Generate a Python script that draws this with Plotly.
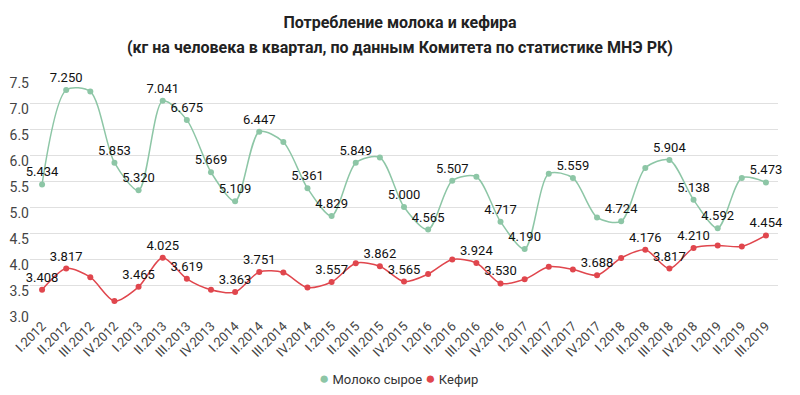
import plotly.graph_objects as go

categories = ["I.2012", "II.2012", "III.2012", "IV.2012",
              "I.2013", "II.2013", "III.2013", "IV.2013",
              "I.2014", "II.2014", "III.2014", "IV.2014",
              "I.2015", "II.2015", "III.2015", "IV.2015",
              "I.2016", "II.2016", "III.2016", "IV.2016",
              "I.2017", "II.2017", "III.2017", "IV.2017",
              "I.2018", "II.2018", "III.2018", "IV.2018",
              "I.2019", "II.2019", "III.2019"]

milk = [5.434, 7.250, 7.22, 5.853,
        5.320, 7.041, 6.675, 5.669,
        5.109, 6.447, 6.25, 5.361,
        4.829, 5.849, 5.95, 5.000,
        4.565, 5.507, 5.58, 4.717,
        4.190, 5.64, 5.559, 4.80,
        4.724, 5.75, 5.904, 5.138,
        4.592, 5.56, 5.473]

kefir = [3.408, 3.817, 3.65, 3.19,
         3.465, 4.025, 3.619, 3.41,
         3.363, 3.751, 3.74, 3.45,
         3.557, 3.92, 3.862, 3.565,
         3.71, 3.99, 3.924, 3.530,
         3.61, 3.85, 3.80, 3.688,
         4.02, 4.176, 3.817, 4.210,
         4.26, 4.24, 4.454]

# which points carry a visible value label in the reference
milk_labeled = [1, 1, 0, 1, 1, 1, 1, 1, 1, 1, 0, 1, 1, 1, 0, 1,
                1, 1, 0, 1, 1, 0, 1, 0, 1, 0, 1, 1, 1, 0, 1]
kefir_labeled = [1, 1, 0, 0, 1, 1, 1, 0, 1, 1, 0, 0, 1, 0, 1, 1,
                 0, 0, 1, 1, 0, 0, 0, 1, 0, 1, 1, 1, 0, 0, 1]

milk_name = "Молоко сырое"
kefir_name = "Кефир"
title_line1 = "Потребление молока и кефира"
title_line2 = "(кг на человека в квартал, по данным Комитета по статистике МНЭ РК)"
y_ticks = [3.0, 3.5, 4.0, 4.5, 5.0, 5.5, 6.0, 6.5, 7.0, 7.5]

green = "#8dc6a6"
red = "#e0464d"
font_family = "Roboto, 'Noto Sans', sans-serif"

W, H = 800, 395
L, R, T, B = 30, 22, 77, 84
plot_w = W - L - R
plot_h = H - T - B

milk_text = [f"{v:.3f}" if s else "" for v, s in zip(milk, milk_labeled)]
kefir_text = [f"{v:.3f}" if s else "" for v, s in zip(kefir, kefir_labeled)]

fig = go.Figure()
fig.add_trace(go.Scatter(
    x=categories, y=milk, mode="lines+markers+text", name=milk_name,
    line=dict(color=green, width=1.5, shape="spline", smoothing=0.8),
    marker=dict(color=green, size=6),
    text=milk_text, textposition="top center",
    textfont=dict(size=13, color="#111", family=font_family),
    cliponaxis=False))
fig.add_trace(go.Scatter(
    x=categories, y=kefir, mode="lines+markers+text", name=kefir_name,
    line=dict(color=red, width=1.5, shape="spline", smoothing=0.8),
    marker=dict(color=red, size=6),
    text=kefir_text, textposition="top center",
    textfont=dict(size=13, color="#111", family=font_family),
    cliponaxis=False))

legend_html = (f"<span style='color:{green}; font-size:17px'>●</span> {milk_name} "
               f"<span style='color:{red}; font-size:17px'>●</span> {kefir_name}")

fig.update_layout(
    width=W, height=H,
    paper_bgcolor="white", plot_bgcolor="white",
    margin=dict(l=L, r=R, t=T, b=B, autoexpand=False),
    font=dict(family=font_family, color="#333"),
    title=dict(text=f"<b>{title_line1}</b>", xref="container", x=0.5,
               xanchor="center", yref="container", y=1 - 22 / H, yanchor="middle",
               font=dict(size=16, color="#222")),
    showlegend=False,
    annotations=[
        dict(text=f"<b>{title_line2}</b>", xref="paper", yref="paper",
             x=(400 - L) / plot_w, y=1 + (T - 47) / plot_h,
             xanchor="center", yanchor="middle", showarrow=False,
             font=dict(size=16, color="#222")),
        dict(text=legend_html, xref="paper", yref="paper",
             x=(398 - L) / plot_w, y=-(378 - T - plot_h) / plot_h,
             xanchor="center", yanchor="middle", showarrow=False,
             font=dict(size=13, color="#333")),
    ],
)
fig.update_xaxes(type="category", tickangle=-45, range=[-0.5, 30.5],
                 tickfont=dict(size=13, color="#444"), showgrid=False,
                 showline=False, ticks="", zeroline=False, automargin=False,
                 ticklabelstandoff=4)
fig.update_yaxes(range=[3.0, 7.5], tickvals=y_ticks,
                 ticktext=[f"{t:.1f}" for t in y_ticks],
                 tickfont=dict(size=14, color="#444"), showgrid=True,
                 gridcolor="#e0e0e0", gridwidth=1, zeroline=False, ticks="",
                 showline=False, ticklabelstandoff=0, ticklabelshift=6,
                 automargin=False)

fig.write_html("out.html", config={"displayModeBar": False},
               post_script="document.body.style.margin='0';")
